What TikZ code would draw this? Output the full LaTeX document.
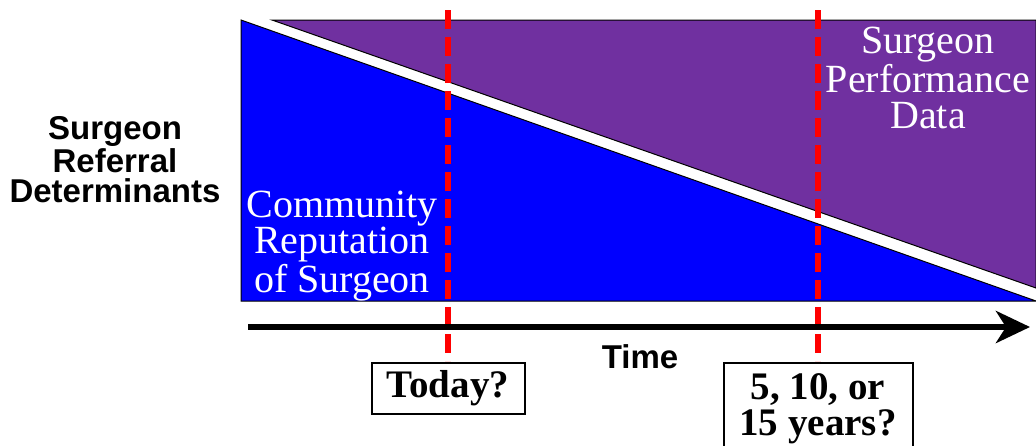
\documentclass[tikz,border=0pt]{standalone}
\usepackage{fontspec}
\setmainfont{Liberation Serif}
\newfontfamily\labelsans{Liberation Sans}
\usetikzlibrary{arrows.meta,positioning}
\definecolor{perfpurple}{RGB}{112,48,160}
\tikzset{
  region/.style={draw=black,line width=0.5pt},
  marker/.style={draw=red,line width=3pt,dash pattern=on 9.5pt off 4pt,shorten >=0.5pt},
  timeaxis/.style={line width=3.25pt,-{Stealth[length=17pt,width=16pt,inset=5pt]}},
  areatext/.style={text=white,align=center,inner sep=0pt,font=\fontsize{20}{18}\selectfont},
  axislabel/.style={align=center,inner sep=0pt,font=\labelsans\bfseries\fontsize{16.5}{15}\selectfont},
  guess/.style={draw=black,line width=1pt,fill=white,anchor=north,align=center,
    font=\bfseries\fontsize{19.5}{18}\selectfont},
}

\begin{document}
\begin{tikzpicture}[x=0.5pt,y=-0.5pt]
  \useasboundingbox (0,0) rectangle (1036,445);
  \filldraw[region,fill=blue] (241,20) -- (241,301) -- (1036,301) -- cycle;
  \filldraw[region,fill=perfpurple] (272,20) -- (1036,20) -- (1036,288) -- cycle;
  \node[areatext] (performance) at (928,78) {Surgeon\\Performance\\Data};
  \node[areatext] (reputation) at (342,246) {Community\\Reputation\\of Surgeon};
  \node[axislabel] (determinants) at (115,160) {Surgeon\\Referral\\Determinants};
  \node[axislabel] (time) at (640,357) {Time};
  \node[guess,minimum width=76.5pt,minimum height=25.5pt] (today) at (448,362) {Today?};
  \node[guess,minimum width=94.5pt,minimum height=46pt] (later) at (818,362) {5, 10, or\\15 years?};
  \coordinate (todaytop) at (448,10);
  \coordinate (latertop) at (818,10);
  \draw[marker] (todaytop) -- (today.north);
  \draw[marker] (latertop) -- (later.north);
  \coordinate (tstart) at (248,327);
  \coordinate (tend) at (1030,327);
  \draw[timeaxis] (tstart) -- (tend);
\end{tikzpicture}
\end{document}
